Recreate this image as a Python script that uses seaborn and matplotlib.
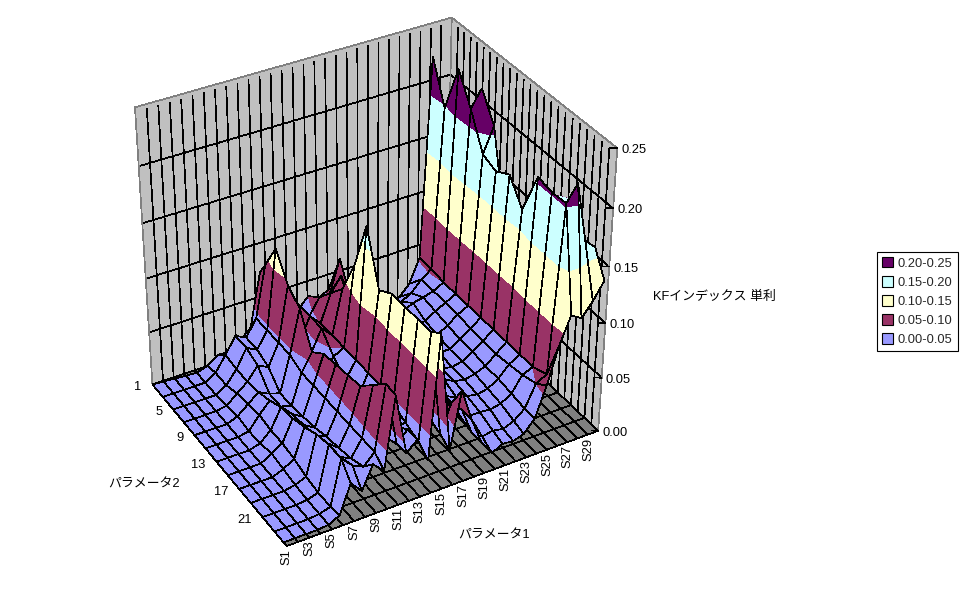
import numpy as np
import seaborn as sns
import matplotlib
matplotlib.use("Agg")
import matplotlib.pyplot as plt
from matplotlib.patches import Patch
from mpl_toolkits.mplot3d.art3d import Poly3DCollection, Line3DCollection

# ===================== DATA =====================
# one list per S column, values for parameter 2 = 1, 3, 5 ... 25
s01 = [0] * 13
s02 = [0] * 13
s03 = [0] * 13
s04 = [0] * 13
s05 = [0, 0, 0, .002, .004, .002, .003, .006, .004, .002, .001, .001, .001]
s06 = [.004, .006, .006, .01, .012, .014, .012, .012, .01, .006, .004, .004, .006]
s07 = [.012, .02, .018, .018, .02, .024, .03, .032, .036, .042, .045, .045, .032]
s08 = [.012, .035, .035, .03, .015, .015, .02, .022, .025, .03, .03, .035, .021]
s09 = [.02, .03, .03, .025, .012, .012, .014, .016, .02, .022, .025, .03, .042]
s10 = [.03, .045, .045, .045, .045, .04, .04, .04, .04, .04, .04, .04, .032]
s11 = [.08, .092, .118, .095, .085, .056, .066, .068, .07, .072, .085, .098, .097]
s12 = [.03, .035, .04, .04, .04, .03, .035, .03, .03, .03, .035, .04, .041]
s13 = [.03, .04, .06, .06, .06, .045, .035, .03, .03, .035, .04, .05, .05]
s14 = [.03, .04, .045, .05, .05, .05, .05, .05, .05, .045, .04, .035, .027]
s15 = [.035, .05, .06, .075, .09, .122, .168, .122, .13, .13, .13, .13, .138]
s16 = [.03, .045, .06, .088, .06, .05, .05, .05, .04, .04, .04, .035, .029]
s17 = [.03, .05, .09, .06, .05, .045, .045, .04, .04, .04, .04, .06, .08]
s18 = [.02, .03, .05, .045, .04, .04, .04, .04, .04, .04, .045, .05, .05]
s19 = [.01, .02, .04, .04, .04, .035, .035, .04, .04, .035, .03, .025, .025]
s20 = [.005, .015, .03, .04, .035, .03, .03, .035, .035, .03, .025, .018, .012]
s21 = [.005, .012, .025, .035, .03, .03, .03, .03, .03, .028, .025, .02, .017]
s22 = [.005, .012, .025, .035, .032, .03, .03, .028, .028, .026, .024, .018, .016]
s23 = [.005, .015, .03, .04, .034, .032, .03, .03, .03, .028, .026, .022, .019]
s24 = [.005, .02, .035, .042, .04, .038, .036, .036, .034, .034, .032, .03, .03]
s25 = [.008, .03, .045, .045, .045, .045, .043, .043, .042, .044, .046, .05, .057]
s26 = [.04, .052, .052, .05, .05, .05, .05, .05, .05, .05, .05, .055, .09]
s27 = [.19, .233, .197, .24, .215, .185, .18, .187, .167, .205, .202, .203, .114]
s28 = [.14, .17, .16, .17, .23, .207, .13, .13, .125, .15, .16, .217, .108]
s29 = [.12, .12, .12, .12, .12, .12, .11, .11, .11, .12, .14, .165, .12]
s30 = [.1, .1, .1, .1, .1, .1, .1, .1, .1, .12, .14, .156, .135]

s_columns = [s01, s02, s03, s04, s05, s06, s07, s08, s09, s10,
             s11, s12, s13, s14, s15, s16, s17, s18, s19, s20,
             s21, s22, s23, s24, s25, s26, s27, s28, s29, s30]

s_labels = ["S%d" % n for n in range(1, 31)]
p2_labels = ["1", "5", "9", "13", "17", "21"]
z_labels = ["0.00", "0.05", "0.10", "0.15", "0.20", "0.25"]
band_labels = ["0.00-0.05", "0.05-0.10", "0.10-0.15", "0.15-0.20", "0.20-0.25"]
band_edges = [0.0, 0.05, 0.10, 0.15, 0.20, 0.25]
band_hex = ["#9999FF", "#993366", "#FFFFCC", "#CCFFFF", "#660066"]

# ===================== SETUP =====================
sns.set_theme(style="white")
plt.rcParams["font.family"] = ["Liberation Sans", "Noto Sans CJK JP"]
band_colors = sns.color_palette(band_hex)

W, H = 970, 604
fig = plt.figure(figsize=(W / 100, H / 100), dpi=100, facecolor="white")
# square axes as wide as the figure so nothing is clipped
ax = fig.add_axes([0, (1 - W / H) / 2, 1, W / H], projection="3d", computed_zorder=False)
ax.set_axis_off()
ax.patch.set_alpha(0)

kf = np.array(s_columns, dtype=float)   # shape (30, 13)
n_s, n_p = kf.shape
x_max, y_max, z_max = n_s - 1, n_p - 1, 0.25

# surface sits a little inside the floor at back and front
y_pos = np.tile(np.arange(n_p, dtype=float), (n_s, 1))
y_pos[:, 0] = np.minimum(0.05 * np.arange(n_s), 0.95)
y_pos[:, -1] = 11.75

# ===================== PROJECTION =====================
# camera fitted on the corners of the plot box (pixel positions of the box)
box_world = [(0, 0, 0), (0, y_max, 0), (x_max, y_max, 0), (x_max, 0, 0),
             (0, 0, z_max), (x_max, 0, z_max), (x_max, y_max, z_max)]
box_pixel = [(152, 383), (287, 547), (598, 430), (446, 288),
             (135, 108), (452, 17), (617, 148)]
rows = []
for (wx, wy, wz), (px, py) in zip(box_world, box_pixel):
    X = [wx, wy, wz * 100, 1]
    rows.append(X + [0, 0, 0, 0] + [-px * v for v in X])
    rows.append([0, 0, 0, 0] + X + [-py * v for v in X])
cam = np.linalg.svd(np.array(rows, dtype=float))[2][-1].reshape(3, 4)
cam[:, 2] *= 100

ax.apply_aspect()
to_data = ax.transData.inverted().get_matrix()
flip = np.array([[1, 0, 0], [0, -1, H], [0, 0, 1]], dtype=float)
cam2d = to_data @ flip @ cam
M = np.vstack([cam2d[0], cam2d[1], cam2d[2] + np.array([1e-3, -1e-3, 0, 0]) * np.abs(cam2d[2]).max(), cam2d[2]])
ax.get_proj = lambda: M


def add_lines(segs, color="black", lw=0.5, z=2):
    col = Line3DCollection(segs, colors=color, linewidths=lw, antialiaseds=False, zorder=z)
    ax.add_collection3d(col, autolim=False)


def add_polys(polys, faces, z):
    col = Poly3DCollection(polys, facecolors=faces, edgecolors="none", linewidths=0,
                           antialiaseds=False, zorder=z)
    ax.add_collection3d(col, autolim=False)


def clip_z(pts, level, keep_above):
    out = []
    for i in range(len(pts)):
        a, b = pts[i], pts[(i + 1) % len(pts)]
        in_a = a[2] >= level if keep_above else a[2] <= level
        in_b = b[2] >= level if keep_above else b[2] <= level
        if in_a:
            out.append(a)
        if in_a != in_b:
            t = (level - a[2]) / (b[2] - a[2])
            out.append((a[0] + t * (b[0] - a[0]), a[1] + t * (b[1] - a[1]), level))
    return out


# ===================== WALLS AND FLOOR =====================
add_polys([[(0, 0, 0), (x_max, 0, 0), (x_max, 0, z_max), (0, 0, z_max)],
           [(x_max, 0, 0), (x_max, y_max, 0), (x_max, y_max, z_max), (x_max, 0, z_max)]],
          ["#C0C0C0", "#C0C0C0"], 1)
wall_grid = []
for k in range(n_s):
    wall_grid.append([(k, 0, 0), (k, 0, z_max - 0.004)])
for u in np.arange(0, y_max + 0.25, 0.5):
    wall_grid.append([(x_max, u, 0), (x_max, u, z_max - 0.004)])
for lev in band_edges[1:-1]:
    wall_grid.append([(0, 0, lev), (x_max, 0, lev)])
    wall_grid.append([(x_max, 0, lev), (x_max, y_max, lev)])
add_lines(wall_grid, z=2)
add_lines([[(0, 0, z_max), (x_max, 0, z_max)], [(x_max, 0, z_max), (x_max, y_max, z_max)],
           [(x_max, 0, 0), (x_max, 0, z_max)], [(0, 0, 0), (0, 0, z_max)],
           [(x_max, y_max, 0), (x_max, y_max, z_max)]], color="#808080", z=3)

add_polys([[(0, 0, 0), (x_max, 0, 0), (x_max, y_max, 0), (0, y_max, 0)]], ["#808080"], 4)
floor_grid = [[(k, 0, 0), (k, y_max, 0)] for k in range(n_s)]
floor_grid += [[(0, u, 0), (x_max, u, 0)] for u in range(n_p)]
add_lines(floor_grid, z=5)

# ===================== SURFACE =====================
# painter's order: far corner (high S, low row) first
order = 10
for k in range(n_s - 2, -1, -1):
    for i in range(n_p - 1):
        quad = [(k, y_pos[k, i], kf[k, i]), (k + 1, y_pos[k + 1, i], kf[k + 1, i]),
                (k + 1, y_pos[k + 1, i + 1], kf[k + 1, i + 1]), (k, y_pos[k, i + 1], kf[k, i + 1])]
        polys, faces = [], []
        for b in range(len(band_colors)):
            part = clip_z(quad, band_edges[b], True)
            if part:
                part = clip_z(part, band_edges[b + 1], False)
            if len(part) >= 3:
                polys.append(part)
                faces.append(band_colors[b])
        add_polys(polys, faces, order)
        add_lines([[quad[j], quad[(j + 1) % 4]] for j in range(4)], z=order + 1)
        order += 2

# ===================== AXIS TEXT =====================
tick_font = 9.3


def to_pixel(x, y, z):
    p = cam @ np.array([x, y, z, 1.0])
    return p[0] / p[2], p[1] / p[2]


def fig_text(x, y, s, **kw):
    kw.setdefault("va", "center")
    fig.text(x / W, 1 - y / H, s, fontsize=tick_font, color="black", **kw)


for k in range(0, n_s - 1, 2):
    px, py = to_pixel(k, y_max, 0)
    fig_text(px, py + 3, s_labels[k], rotation=90, ha="center", va="top")
for j, lab in enumerate(p2_labels):
    px, py = to_pixel(0, 2 * j, 0)
    fig_text(px - 11, py + 3, lab, ha="right")
z_ticks = []
for lev, lab in zip(band_edges, z_labels):
    z_ticks.append([(x_max, y_max, lev), (x_max - 0.47, y_max - 0.157, lev)])
    px, py = to_pixel(x_max, y_max, lev)
    fig_text(px + 4, py + 2, lab, ha="left")
add_lines(z_ticks, z=order)

fig_text(108, 485, "パラメータ2", ha="left")
fig_text(458, 536, "パラメータ1", ha="left")
fig_text(653, 297, "KFインデックス 単利", ha="left")

# ===================== LEGEND =====================
handles = [Patch(facecolor=c, edgecolor="black", linewidth=0.8, label=l)
           for c, l in zip(band_colors[::-1], band_labels[::-1])]
leg = fig.legend(handles=handles, loc="upper left", bbox_to_anchor=(877 / W, 1 - 252 / H),
                 borderaxespad=0, frameon=True, fancybox=False, framealpha=1, edgecolor="black",
                 fontsize=tick_font, handlelength=0.85, handleheight=0.85, handletextpad=0.35,
                 labelspacing=0.5, borderpad=0.4)
leg.get_frame().set_linewidth(0.8)

fig.savefig("out.png", dpi=100, facecolor="white")
